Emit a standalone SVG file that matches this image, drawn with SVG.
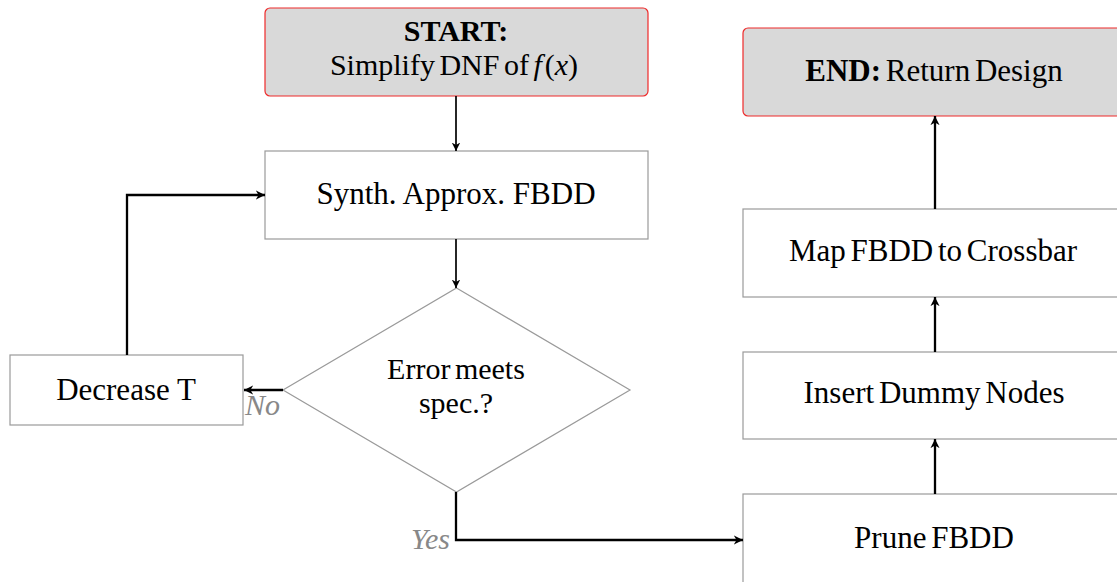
<svg xmlns="http://www.w3.org/2000/svg" width="1117" height="582" viewBox="0 0 1117 582">
<style>
.box{fill:#ffffff;stroke:#9a9a9a;stroke-width:1.2}
.term{fill:#d9d9d9;stroke:#ee2a2a;stroke-width:1.2}
.t{font-family:"Liberation Serif","Times New Roman",serif;font-size:31px;fill:#000;text-anchor:middle}
.two{font-size:30px}
.tight{word-spacing:-3px}
.lbl{font-family:"Liberation Serif","Times New Roman",serif;font-size:30px;font-style:italic;fill:#888888}
.c{fill:none;stroke:#000;stroke-width:2.3}
.c.thin{stroke-width:1.7}
</style>
<defs>
<marker id="ah" viewBox="0 0 10 10" refX="10" refY="5" markerWidth="4" markerHeight="4" markerUnits="strokeWidth" orient="auto">
<path d="M0,0 L10,5 L0,10 L3,5 z" fill="#000"/>
</marker>
<marker id="ahs" viewBox="0 0 10 10" refX="10" refY="5" markerWidth="5" markerHeight="5" markerUnits="strokeWidth" orient="auto">
<path d="M0,0 L10,5 L0,10 L3,5 z" fill="#000"/>
</marker>
</defs>
<g id="start">
<rect class="term" x="265" y="8" width="383" height="88" rx="5"/>
<text class="t two" x="456" y="41" font-weight="bold">START:</text>
<text class="t two tight" x="454" y="75">Simplify DNF of <tspan font-style="italic">f</tspan><tspan dx="3">(</tspan><tspan font-style="italic">x</tspan>)</text>
</g>
<g id="synth">
<rect class="box" x="265" y="151" width="383" height="88"/>
<text class="t" x="456" y="204">Synth. Approx. FBDD</text>
</g>
<g id="decision">
<polygon class="box" points="456.5,288 630,390 456.5,492 283,390"/>
<text class="t two tight" x="456" y="379">Error meets</text>
<text class="t two" x="456" y="413">spec.?</text>
</g>
<g id="decrease">
<rect class="box" x="10" y="355" width="233" height="70"/>
<text class="t" x="126" y="400">Decrease T</text>
</g>
<g id="prune">
<rect class="box" x="743" y="494" width="383" height="96"/>
<text class="t tight" x="934" y="548">Prune FBDD</text>
</g>
<g id="insert">
<rect class="box" x="743" y="352" width="383" height="87"/>
<text class="t tight" x="934" y="403">Insert Dummy Nodes</text>
</g>
<g id="map">
<rect class="box" x="743" y="209" width="383" height="88"/>
<text class="t tight" x="933" y="261">Map FBDD to Crossbar</text>
</g>
<g id="end">
<rect class="term" x="743" y="28" width="383" height="88" rx="5"/>
<text class="t tight" x="934" y="81"><tspan font-weight="bold">END:</tspan> Return Design</text>
</g>
<g id="connectors">
<line class="c thin" x1="456" y1="96" x2="456" y2="151" marker-end="url(#ahs)"/>
<line class="c thin" x1="456" y1="239" x2="456" y2="288" marker-end="url(#ahs)"/>
<line class="c" x1="283" y1="390" x2="244" y2="390" marker-end="url(#ah)"/>
<polyline class="c" points="127,355 127,195 265,195" marker-end="url(#ah)"/>
<polyline class="c" points="456,492 456,540 743,540" marker-end="url(#ah)"/>
<line class="c" x1="935" y1="494" x2="935" y2="439" marker-end="url(#ah)"/>
<line class="c" x1="935" y1="352" x2="935" y2="297" marker-end="url(#ah)"/>
<line class="c" x1="935" y1="209" x2="935" y2="116" marker-end="url(#ah)"/>
<text class="lbl" x="245" y="415">No</text>
<text class="lbl" x="411" y="549">Yes</text>
</g>
</svg>
